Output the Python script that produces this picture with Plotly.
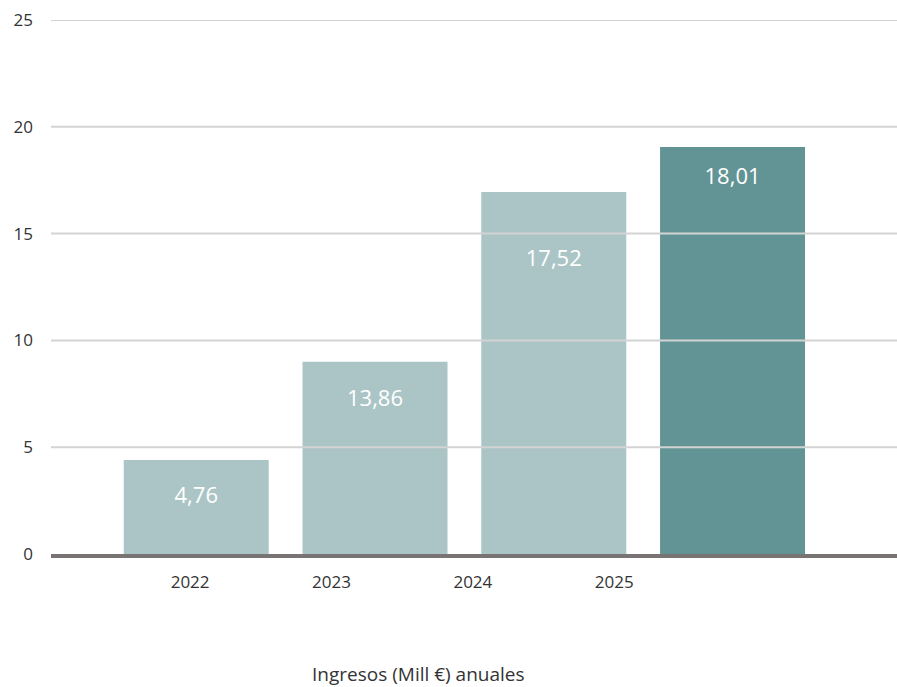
import plotly.graph_objects as go

# ---- data ----
years = ["2022", "2023", "2024", "2025"]
bar_heights = [4.40, 9.00, 16.95, 19.05]
bar_labels = ["4,76", "13,86", "17,52", "18,01"]
label_levels = [2.65, 7.17, 13.75, 17.58]
bar_colors = ["#abc5c6", "#abc5c6", "#abc5c6", "#639495"]
y_ticks = [0, 5, 10, 15, 20, 25]
axis_title = "Ingresos (Mill €) anuales"

FONT = "Open Sans"
TXT = "#333333"

fig = go.Figure()
fig.add_trace(go.Bar(
    x=years, y=bar_heights, marker=dict(color=bar_colors, line=dict(width=0)),
    width=0.811, hoverinfo="skip", showlegend=False,
))
fig.add_trace(go.Scatter(
    x=years, y=label_levels, text=bar_labels, mode="text",
    textfont=dict(family=FONT, size=22, color="white"),
    textposition="middle center", cliponaxis=False, hoverinfo="skip", showlegend=False,
))

# gridlines drawn above the bars, as in the reference
for v in y_ticks[1:]:
    fig.add_shape(type="line", xref="paper", x0=0, x1=1, yref="y", y0=v, y1=v,
                  line=dict(color="#d3d3d3", width=2), layer="above")

fig.update_layout(
    width=897, height=687,
    margin=dict(l=51, r=0, t=20, b=133),
    paper_bgcolor="white", plot_bgcolor="white",
    font=dict(family=FONT, color=TXT, size=17),
    bargap=0.2,
    xaxis=dict(
        type="category", categoryorder="array", categoryarray=years,
        range=[-0.8125, 3.92], showticklabels=False, showgrid=False,
        zeroline=False, showline=True, linewidth=4, linecolor="#777473",
        ticks="", fixedrange=True, layer="above traces",
    ),
    xaxis2=dict(
        overlaying="x", side="bottom", range=[-0.984, 5.0],
        tickmode="array", tickvals=list(range(len(years))), ticktext=years,
        showgrid=False, zeroline=False, showline=False, ticks="",
        tickfont=dict(family=FONT, size=17, color=TXT),
        ticklabelstandoff=16, fixedrange=True,
    ),
    yaxis=dict(
        range=[0, 25], tickmode="array", tickvals=y_ticks,
        ticktext=[str(v) for v in y_ticks],
        showgrid=False, zeroline=False, showline=False, ticks="",
        tickfont=dict(family=FONT, size=17, color=TXT),
        ticklabelstandoff=17, fixedrange=True,
    ),
    annotations=[dict(
        text=axis_title, xref="paper", yref="paper", x=0.434, y=-0.2254,
        xanchor="center", yanchor="middle", showarrow=False,
        font=dict(family=FONT, size=19, color=TXT),
    )],
)
# invisible trace so that the second x axis is laid out
fig.add_trace(go.Scatter(x=[0], y=[0], xaxis="x2", mode="markers",
                         marker=dict(opacity=0), hoverinfo="skip", showlegend=False))

fig.write_html(
    "out.html",
    config={"displayModeBar": False, "staticPlot": True},
    post_script="document.body.style.margin='0';document.body.style.overflow='hidden';",
)
